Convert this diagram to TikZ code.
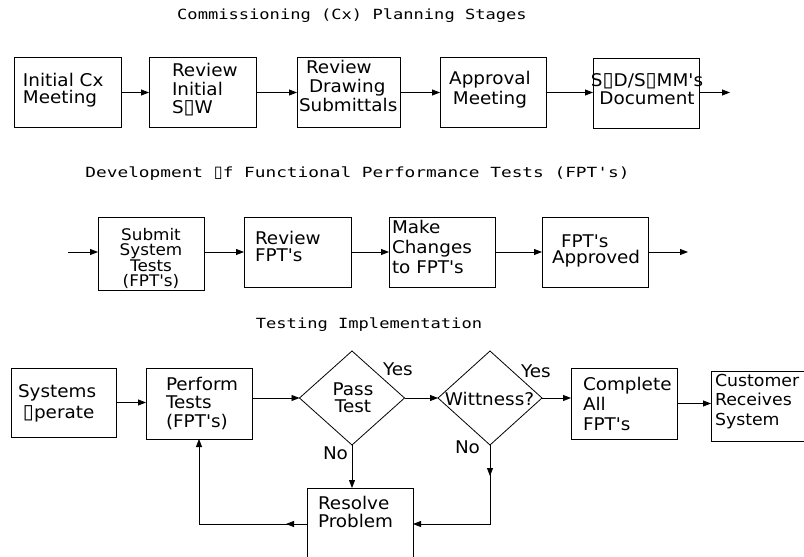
\documentclass[tikz,border=0pt]{standalone}
\usepackage{fontspec}
\usepackage{graphicx}
\newfontfamily\boxfont[FakeStretch=1.05]{DejaVu Sans}
\newfontfamily\titlefont[FakeStretch=1.22]{DejaVu Sans Mono}
\newfontfamily\titlefontw[FakeStretch=1.27]{DejaVu Sans Mono}
\newfontfamily\glyphfont{DejaVu Sans}
\newcommand\gbox{{\glyphfont\scalebox{1.15}{▯}}}
\newcommand\fstrut{\rule{0pt}{14pt}}
\newcommand\tightlines{\lineskiplimit -30pt\lineskip 0pt\relax}
\usetikzlibrary{arrows.meta,shapes.geometric,decorations.markings}
\begin{document}
\begin{tikzpicture}[x=1pt,y=-1pt,
  box/.style={draw,line width=0.8pt,rectangle,inner sep=0pt,outer sep=0pt,minimum width=106pt,minimum height=70pt},
  dia/.style={draw,line width=0.8pt,diamond,inner sep=0pt,outer sep=0pt,minimum width=105pt,minimum height=94pt},
  txt/.style={inner sep=0pt,outer sep=0pt,anchor=north west,align=left,font={\boxfont\fontsize{17.5}{#1}\selectfont\tightlines}},
  txt/.default=17,
  ctxt/.style={txt=#1,anchor=north,align=center},
  lbl/.style={inner sep=0pt,outer sep=0pt,anchor=base west,font={\boxfont\fontsize{17.5}{17}\selectfont}},
  ttl/.style={inner sep=0pt,outer sep=0pt,anchor=base,font={\titlefont\fontsize{14}{14}\selectfont}},
  arr/.style={line width=0.8pt,-{Triangle[length=8pt,width=6pt]}},
  midarrow/.style={postaction={decorate},decoration={markings,mark=at position #1 with {\arrow{Triangle[length=8pt,width=6pt]}}}}
]
\clip (0,0) rectangle (804,557);
\fill[white] (0,0) rectangle (804,557);

% titles
\node[ttl] (t1) at (352,19) {Commissioning (Cx) Planning Stages};
\node[ttl,font={\titlefontw\fontsize{14}{14}\selectfont}] (t2) at (357.5,177) {Development \gbox f Functional Performance Tests (FPT's)};
\node[ttl] (t3) at (369,328) {Testing Implementation};

% row 1
\node[box,minimum width=107pt] (b1) at (67.5,92.5) {};
\node[box,minimum width=107pt] (b2) at (202.5,92.5) {};
\node[box,minimum width=103pt] (b3) at (348.5,92.5) {};
\node[box] (b4) at (493,92.5) {};
\node[box] (b5) at (646,93.5) {};
\coordinate (e1) at (730,92.5);
\draw[arr] (b1.east) -- (b2.west);
\draw[arr] (b2.east) -- (b3.west);
\draw[arr] (b3.east) -- (b4.west);
\draw[arr] (b4.east) -- (b4.east -| b5.west);
\draw[arr] (b5.east |- e1) -- (e1);

\node[txt=17.5] (x1) at (23,72) {\fstrut Initial Cx\\Meeting};
\node[txt=18.5] (x2) at (172,62.5) {\fstrut Review\\Initial\\S\gbox W};
\node[txt=19] (x3) at (299,59) {\fstrut\hspace{7pt}Review\\\hspace{10pt}Drawing\\Submittals};
\node[ctxt=20] (x4) at (490,70.5) {\fstrut Approval\\Meeting};
\node[ctxt=18] (x5) at (647,72) {\fstrut S\gbox D/S\gbox MM's\\Document};

% row 2
\coordinate (s2) at (68,252);
\node[box,minimum height=73pt] (a1) at (151,253.5) {};
\node[box,minimum width=107pt] (a2) at (297.5,252) {};
\node[box] (a3) at (442,252) {};
\node[box] (a4) at (595,252) {};
\coordinate (e2) at (688,252);
\draw[arr] (s2) -- (s2 -| a1.west);
\draw[arr] (a1.east |- a2.west) -- (a2.west);
\draw[arr] (a2.east) -- (a3.west);
\draw[arr] (a3.east) -- (a4.west);
\draw[arr] (a4.east) -- (e2);

\node[ctxt=15.5,font={\boxfont\fontsize{16}{15.5}\selectfont\tightlines}] (y1) at (151,226) {\fstrut Submit\\System\\Tests\\(FPT's)};
\node[txt=17.5] (y2) at (255,230) {\fstrut Review\\FPT's};
\node[txt=20] (y3) at (392,219) {\fstrut Make\\Changes\\to FPT's};
\node[txt=16] (y4) at (552,233) {\fstrut\hspace{9pt}FPT's\\Approved};

% row 3
\node[box,minimum width=105pt,minimum height=69pt] (sy) at (63.5,402.5) {};
\node[box,minimum height=71pt] (pf) at (199,403.5) {};
\node[dia] (ps) at (352,398) {};
\node[dia,minimum width=104pt] (wt) at (490,398) {};
\node[box,minimum height=71pt] (cp) at (624,403.5) {};
\node[box] (cu) at (764,406) {};
\node[box,minimum height=72pt] (rs) at (360,524) {};

\draw[arr] (sy.east) -- (sy.east -| pf.west);
\draw[arr] (pf.east |- ps.west) -- (ps.west);
\draw[arr] (ps.east) -- (wt.west);
\draw[arr] (wt.east) -- (wt.east -| cp.west);
\draw[arr] (cp.east) -- (cp.east -| cu.west);
\draw[arr] (ps.south) -- (ps.south |- rs.north);
\draw[arr,midarrow=31pt] (wt.south) -- (wt.south |- rs.east) -- (rs.east);
\draw[arr,midarrow=21pt] (rs.west) -- (pf.south |- rs.west) -- (pf.south);

\node[txt=21] (z1) at (18,383) {\fstrut Systems\\\hspace{5pt}\gbox perate};
\node[txt=18.5] (z2) at (166,376) {\fstrut Perform\\Tests\\(FPT's)};
\node[ctxt=17] (z3) at (353,381) {\fstrut Pass\\Test};
\node[lbl,anchor=base] (z4) at (489.5,405) {Wittness?};
\node[txt=19.5,font={\boxfont\fontsize{16.5}{19.5}\selectfont\tightlines}] (z6) at (715,372) {\fstrut Customer\\Receives\\System};
\node[txt=20] (z5) at (583,376) {\fstrut Complete\\All\\FPT's};
\node[txt=18] (z7) at (318,495) {\fstrut Resolve\\Problem};

\node[lbl] (l1) at (383,375) {Yes};
\node[lbl] (l2) at (323,459) {No};
\node[lbl] (l3) at (521,377) {Yes};
\node[lbl] (l4) at (455,453) {No};
\end{tikzpicture}
\end{document}
